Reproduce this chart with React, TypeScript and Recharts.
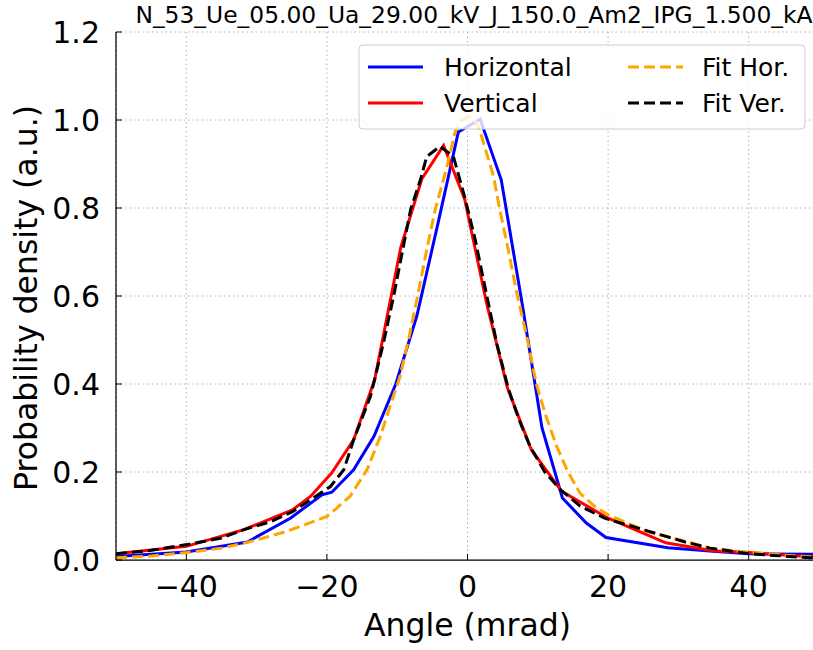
import { LineChart, Line, XAxis, YAxis, CartesianGrid } from 'recharts';

// measured curves, angle in mrad vs normalised density
const horX = [-50, -40, -31.3, -25.2, -20.7, -19.3, -16.2, -13.3, -10.2, -7.2, -4.2, -1.3, 1.8, 4.8, 7.8, 10.6, 13.5, 16.9, 19.7, 28.5, 34.9, 40, 50];
const horY = [0.008, 0.018, 0.041, 0.095, 0.148, 0.154, 0.205, 0.281, 0.4, 0.555, 0.765, 0.973, 1.002, 0.864, 0.58, 0.3, 0.141, 0.084, 0.051, 0.028, 0.02, 0.014, 0.013];

const verX = [-50, -40, -31.8, -24.9, -22.3, -19.3, -16.2, -13.2, -9.5, -6.5, -3.4, -0.4, 2.7, 5.7, 9.1, 13.4, 20, 28.2, 34.9, 40, 50];
const verY = [0.014, 0.031, 0.069, 0.114, 0.145, 0.198, 0.273, 0.41, 0.71, 0.866, 0.942, 0.82, 0.585, 0.39, 0.25, 0.156, 0.095, 0.039, 0.021, 0.017, 0.006];

// fitted curves
const fitHorX = [-50, -45, -39.9, -35, -31.3, -25.7, -20, -18.6, -16.7, -14.3, -12.4, -10.8, -9.6, -8.4, -7.2, -5.8, -4.6, -2.9, -1.75, -0.8, 0.3, 1.2, 1.8, 3.7, 4.6, 5.8, 7, 8.4, 9.8, 11.2, 12.7, 14.3, 16, 18, 20, 25.5, 29.7, 34.5, 40.2, 45, 50];
const fitHorY = [0.005, 0.009, 0.017, 0.027, 0.04, 0.065, 0.099, 0.118, 0.145, 0.205, 0.281, 0.36, 0.417, 0.5, 0.592, 0.705, 0.796, 0.895, 0.974, 1.0, 1.008, 0.995, 0.974, 0.872, 0.796, 0.705, 0.607, 0.51, 0.4, 0.325, 0.258, 0.2, 0.152, 0.123, 0.103, 0.065, 0.048, 0.027, 0.017, 0.011, 0.006];

const fitVerX = [-50, -45, -39.9, -35, -31.8, -28, -24.9, -22.3, -19.5, -17.6, -16.2, -13.8, -12, -10.5, -8.1, -6.7, -5.8, -3.9, -2, -0.3, 1.1, 2.75, 4.2, 5.8, 7.3, 8.9, 11, 13.2, 16, 19.5, 25, 30.7, 34.5, 40.2, 48.7, 50];
const fitVerY = [0.014, 0.022, 0.035, 0.05, 0.069, 0.087, 0.11, 0.137, 0.167, 0.205, 0.273, 0.372, 0.49, 0.6, 0.796, 0.864, 0.917, 0.94, 0.917, 0.819, 0.728, 0.6, 0.49, 0.39, 0.32, 0.258, 0.2, 0.16, 0.123, 0.095, 0.069, 0.042, 0.027, 0.014, 0.005, 0.005];

const xTicks = [-40, -20, 0, 20, 40];
const yTicks = [0, 0.2, 0.4, 0.6, 0.8, 1.0, 1.2];

const title = 'N_53_Ue_05.00_Ua_29.00_kV_J_150.0_Am2_IPG_1.500_kA';
const font = 'DejaVu Sans';

const toPoints = (xs: number[], ys: number[]) => xs.map((x, i) => ({ x, y: ys[i] }));

const horizontal = toPoints(horX, horY);
const vertical = toPoints(verX, verY);
const fitHor = toPoints(fitHorX, fitHorY);
const fitVer = toPoints(fitVerX, fitVerY);

function BottomTick(props: any) {
  const { x, y, payload } = props;
  const v = payload.value;
  const label = v < 0 ? `\u2212${Math.abs(v)}` : String(v);
  return (
    <g>
      <line x1={x} x2={x} y1={y} y2={y - 6} stroke="#000" strokeWidth={1} />
      <text x={x} y={y + 37} textAnchor="middle" fontSize={30} fontFamily={font} fill="#000">
        {label}
      </text>
    </g>
  );
}

function TopTick(props: any) {
  const { x, y } = props;
  return <line x1={x} x2={x} y1={y} y2={y + 6} stroke="#000" strokeWidth={1} />;
}

function LeftTick(props: any) {
  const { x, y, payload } = props;
  return (
    <g>
      <line x1={x} x2={x + 6} y1={y} y2={y} stroke="#000" strokeWidth={1} />
      <text x={x - 16} y={y + 11} textAnchor="end" fontSize={30} fontFamily={font} fill="#000">
        {Number(payload.value).toFixed(1)}
      </text>
    </g>
  );
}

function LegendBox() {
  return (
    <g fontFamily={font} fontSize={25} fill="#000">
      <rect x={359} y={45} width={446} height={84} rx={4} fill="#fff" fillOpacity={0.8} stroke="#cccccc" />
      <line x1={368} x2={423} y1={67} y2={67} stroke="#0000ff" strokeWidth={3} />
      <text x={444} y={76}>Horizontal</text>
      <line x1={368} x2={423} y1={103} y2={103} stroke="#ff0000" strokeWidth={3} />
      <text x={444} y={112}>Vertical</text>
      <line x1={628} x2={683} y1={67} y2={67} stroke="#ffa500" strokeWidth={3} strokeDasharray="11 5" />
      <text x={702} y={76}>Fit Hor.</text>
      <line x1={628} x2={683} y1={103} y2={103} stroke="#000" strokeWidth={3} strokeDasharray="11 5" />
      <text x={702} y={112}>Fit Ver.</text>
    </g>
  );
}

export default function App() {
  return (
    <div style={{ position: 'absolute', left: 0, top: 0, width: 813, height: 650, overflow: 'hidden', background: '#fff' }}>
      <LineChart width={830} height={650} margin={{ top: 32, right: 11, bottom: 0, left: 0 }}>
        <CartesianGrid stroke="#b0b0b0" strokeDasharray="1.5 3" />
        <XAxis
          dataKey="x"
          type="number"
          domain={[-50, 50]}
          ticks={xTicks}
          interval={0}
          allowDataOverflow
          height={90}
          tickSize={0}
          tickMargin={0}
          tickLine={false}
          tick={BottomTick}
          axisLine={{ stroke: '#000', strokeWidth: 1.25 }}
        />
        <XAxis
          xAxisId="top"
          orientation="top"
          type="number"
          domain={[-50, 50]}
          ticks={xTicks}
          interval={0}
          height={0}
          tickSize={0}
          tickMargin={0}
          tickLine={false}
          tick={TopTick}
          axisLine={{ stroke: '#000', strokeWidth: 1.25 }}
        />
        <YAxis
          type="number"
          domain={[0, 1.2]}
          ticks={yTicks}
          interval={0}
          allowDataOverflow
          width={116}
          tickSize={0}
          tickMargin={0}
          tickLine={false}
          tick={LeftTick}
          axisLine={{ stroke: '#000', strokeWidth: 1.25 }}
        />
        <Line data={horizontal} dataKey="y" stroke="#0000ff" strokeWidth={3} dot={false} isAnimationActive={false} />
        <Line data={vertical} dataKey="y" stroke="#ff0000" strokeWidth={3} dot={false} isAnimationActive={false} />
        <Line data={fitHor} dataKey="y" stroke="#ffa500" strokeWidth={3} strokeDasharray="11 5" dot={false} isAnimationActive={false} />
        <Line data={fitVer} dataKey="y" stroke="#000000" strokeWidth={3} strokeDasharray="11 5" dot={false} isAnimationActive={false} />
      </LineChart>
      <svg width={813} height={650} style={{ position: 'absolute', left: 0, top: 0, pointerEvents: 'none' }}>
        <text x={474} y={23} textAnchor="middle" fontSize={23.4} fontFamily={font} fill="#000">
          {title}
        </text>
        <text x={467.5} y={636} textAnchor="middle" fontSize={31.5} fontFamily={font} fill="#000">
          Angle (mrad)
        </text>
        <text x={37} y={298} transform="rotate(-90 37 298)" textAnchor="middle" fontSize={31.5} fontFamily={font} fill="#000">
          Probability density (a.u.)
        </text>
        <LegendBox />
      </svg>
    </div>
  );
}
